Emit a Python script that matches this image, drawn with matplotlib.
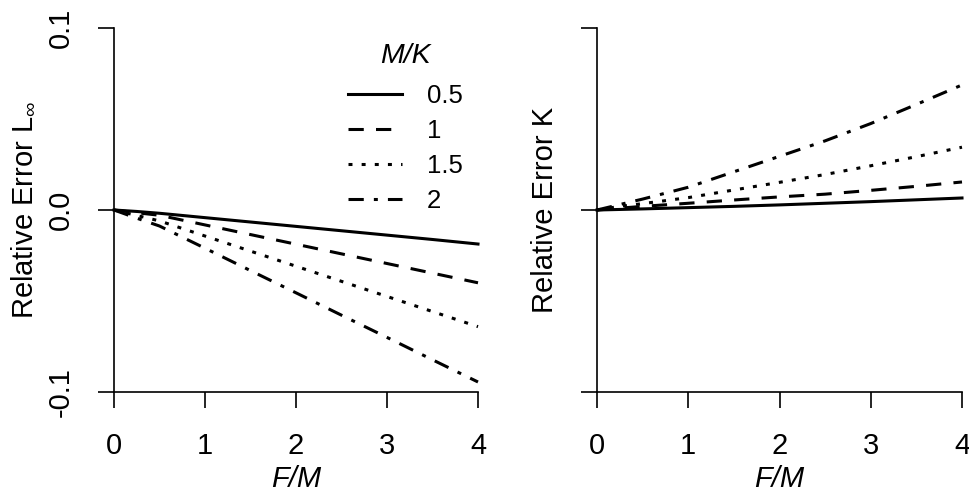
import matplotlib
matplotlib.use("Agg")
import matplotlib.pyplot as plt

plt.rcParams['font.family'] = ['Liberation Sans', 'DejaVu Sans']
plt.rcParams['mathtext.fontset'] = 'custom'
plt.rcParams['mathtext.rm'] = 'Liberation Sans'
plt.rcParams['mathtext.it'] = 'Liberation Sans:italic'

# F/M values
f_over_m = [0, 0.25, 0.5, 1, 1.5, 2, 2.5, 3, 3.5, 4]

# M/K groups
mk_labels = ['0.5', '1', '1.5', '2']

# relative error of L-infinity (left panel)
err_linf_05 = [0, -0.0008, -0.0018, -0.0042, -0.0066, -0.0090, -0.0114, -0.0138, -0.0162, -0.0187]
err_linf_1 = [0, -0.0015, -0.0029, -0.0082, -0.0135, -0.0188, -0.0241, -0.0294, -0.0347, -0.0400]
err_linf_15 = [0, -0.0030, -0.0060, -0.0143, -0.0226, -0.0309, -0.0392, -0.0475, -0.0558, -0.0641]
err_linf_2 = [0, -0.0045, -0.0088, -0.0210, -0.0333, -0.0455, -0.0578, -0.0700, -0.0823, -0.0945]

# relative error of K (right panel)
err_k_05 = [0, 0.0003, 0.0006, 0.0013, 0.0020, 0.0028, 0.0037, 0.0046, 0.0056, 0.0066]
err_k_1 = [0, 0.0010, 0.0020, 0.0037, 0.0055, 0.0072, 0.0087, 0.0108, 0.0130, 0.0154]
err_k_15 = [0, 0.0020, 0.0035, 0.0068, 0.0110, 0.0152, 0.0195, 0.0243, 0.0293, 0.0345]
err_k_2 = [0, 0.0030, 0.0060, 0.0125, 0.0210, 0.0295, 0.0380, 0.0475, 0.0580, 0.0687]

x_ticks = [0, 1, 2, 3, 4]
y_ticks = [-0.1, 0.0, 0.1]
y_tick_labels = ['-0.1', '0.0', '0.1']

LW = 2.2
# R style lty 1..4
styles = [
    dict(linestyle='-'),
    dict(linestyle=(0, (5, 4))),
    dict(linestyle=(0, (1.3, 3))),
    dict(linestyle=(0, (5, 3.3, 1.3, 3.3))),
]


def setup_axis(ax, ylabel, show_ylabels):
    ax.set_xlim(0, 4)
    ax.set_ylim(-0.1, 0.1)
    for side in ['top', 'right']:
        ax.spines[side].set_visible(False)
    for side in ['left', 'bottom']:
        ax.spines[side].set_linewidth(1.2)
    ax.set_xticks(x_ticks)
    ax.set_xticklabels([str(t) for t in x_ticks])
    ax.set_yticks(y_ticks)
    if show_ylabels:
        ax.set_yticklabels(y_tick_labels, rotation=90, va='center')
    else:
        ax.set_yticklabels([])
    ax.tick_params(direction='out', length=11.5, width=1.2, labelsize=21, pad=17)
    ax.set_xlabel('F/M', fontsize=21, style='italic', labelpad=4)
    ax.set_ylabel(ylabel, fontsize=21)


def draw_panel(ax, series):
    for values, label, st in zip(series, mk_labels, styles):
        ax.plot(f_over_m, values, color='black', linewidth=LW,
                dash_capstyle='butt', label=label, clip_on=False, **st)


def main():
    fig = plt.figure(figsize=(9.69, 4.94), dpi=100)
    ax1 = fig.add_axes([114 / 969, 1 - 392 / 494, 364 / 969, 364 / 494])
    ax2 = fig.add_axes([597 / 969, 1 - 392 / 494, 365 / 969, 364 / 494])

    draw_panel(ax1, [err_linf_05, err_linf_1, err_linf_15, err_linf_2])
    draw_panel(ax2, [err_k_05, err_k_1, err_k_15, err_k_2])

    setup_axis(ax1, 'Relative Error L$_{\\infty}$', True)
    setup_axis(ax2, 'Relative Error K', False)
    ax1.yaxis.set_label_coords(-0.212, 0.5)
    ax2.yaxis.set_label_coords(-0.105, 0.5)

    fs = 18.5
    spacing = 0.42
    leg = ax1.legend(loc='upper left', bbox_to_anchor=(0.643, 0.958),
                     frameon=False, fontsize=fs, title='M/K',
                     handlelength=2.1, handletextpad=0.98,
                     labelspacing=spacing, borderpad=0, borderaxespad=0)
    leg.get_title().set_fontsize(20.5)
    leg.get_title().set_fontstyle('italic')
    # a bit more room under the title, as in the original
    leg._legend_box.sep = spacing * fs + 3

    fig.savefig('out.png', dpi=100)


if __name__ == "__main__":
    main()
